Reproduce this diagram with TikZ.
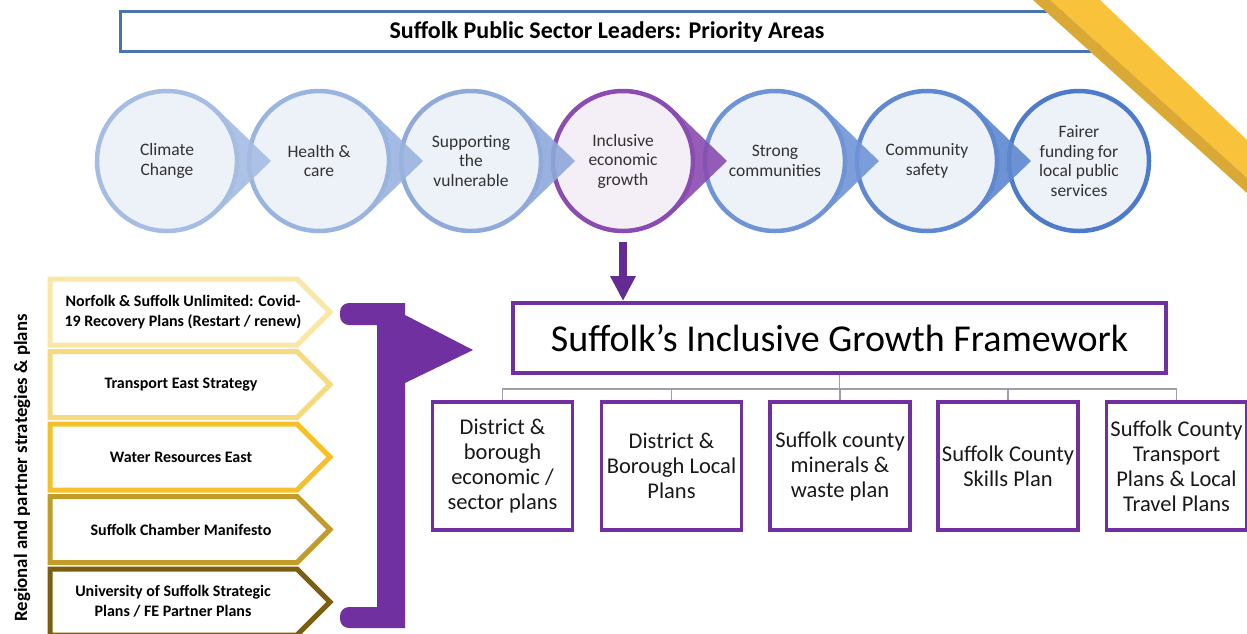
\documentclass[tikz,border=0pt]{standalone}
\usepackage{fontspec}
\setmainfont{Carlito}
\usetikzlibrary{arrows.meta}
\definecolor{titleblue}{RGB}{74,116,170}
\definecolor{stripelight}{RGB}{248,194,59}
\definecolor{stripedark}{RGB}{218,168,52}
\definecolor{cfill}{RGB}{237,241,248}
\definecolor{pfill}{RGB}{244,239,246}
\definecolor{cA}{RGB}{165,188,227}
\definecolor{cB}{RGB}{154,180,224}
\definecolor{cC}{RGB}{143,169,219}
\definecolor{cD}{RGB}{138,76,176}
\definecolor{cE}{RGB}{111,148,214}
\definecolor{cF}{RGB}{95,136,208}
\definecolor{cG}{RGB}{78,123,201}
\definecolor{mainpurple}{RGB}{112,48,160}
\definecolor{arrowpurple}{RGB}{98,44,148}
\definecolor{treegrey}{RGB}{160,156,170}
\definecolor{ctext}{RGB}{50,50,50}
\definecolor{chA}{RGB}{250,231,165}
\definecolor{chB}{RGB}{246,218,128}
\definecolor{chC}{RGB}{245,192,42}
\definecolor{chD}{RGB}{194,155,40}
\definecolor{chE}{RGB}{122,95,16}
\tikzset{
  titlebox/.style={draw=titleblue, line width=3pt, fill=white, minimum width=980pt, minimum height=40pt, inner sep=0pt},
  prio/.style={circle, line width=4.5pt, minimum size=140pt, inner sep=0pt, align=center,
    text=ctext, font=\fontsize{17.5}{19.5}\selectfont},
  fwbox/.style={draw=mainpurple, line width=4pt, fill=white, minimum width=653pt, minimum height=70pt,
    inner sep=0pt, font=\fontsize{38}{42}\selectfont},
  subbox/.style={draw=mainpurple, line width=3.5pt, fill=white, minimum width=140pt, minimum height=128pt,
    inner sep=0pt, align=center, text=black!90, font=\fontsize{22.5}{25}\selectfont},
  treeline/.style={draw=treegrey, line width=1.5pt},
  chev/.style={line width=5pt, fill=white, line join=miter},
  chevtext/.style={align=center, font=\bfseries\fontsize{16}{20.5}\selectfont},
}
\begin{document}
\begin{tikzpicture}[x=1pt,y=-1pt]
\useasboundingbox (0,0) rectangle (1247,633);
\fill[white] (0,0) rectangle (1247,633);

% title
\node[titlebox] (title) at (610,31.5) {};
\node[font=\bfseries\fontsize{24}{28}\selectfont] (titletext) at (607,31.5) {Suffolk Public Sector Leaders: Priority Areas};

% stripe
\fill[stripelight] (1050,0) -- (1100,0) -- (1247,140) -- (1247,178) -- cycle;
\fill[stripedark] (1033,0) -- (1050,0) -- (1247,178) -- (1247,193) -- cycle;

% priority circles
\foreach \i/\x/\col/\fil/\txt in {
  1/167/cA/cfill/{Climate\\Change},
  2/319/cB/cfill/{Health \&\\care},
  3/471/cC/cfill/{Supporting\\the\\vulnerable},
  4/623/cD/pfill/{Inclusive\\economic\\growth},
  5/775/cE/cfill/{Strong\\communities},
  6/927/cF/cfill/{Community\\safety},
  7/1079/cG/cfill/{Fairer\\funding for\\local public\\services}}{
  \node[prio, draw=\col, fill=\fil] (c\i) at (\x,161) {\txt};
}
\foreach \i/\col in {1/cA,2/cB,3/cC,4/cD,5/cE,6/cF}{
  \coordinate (tip\i) at ([xshift=104pt]c\i.center);
  \fill[\col, opacity=0.9] (tip\i) -- (c\i.46) -- (c\i.30) -- (c\i.15) -- (c\i.east) -- (c\i.-15) -- (c\i.-30) -- (c\i.-46) -- cycle;
}

% framework
\node[fwbox] (fw) at (839.5,338) {Suffolk’s Inclusive Growth Framework};
\coordinate (arrowstart) at ([yshift=-9pt]c4.south);
\draw[arrowpurple, line width=8pt, -{Triangle[width=24pt,length=25pt]}] (arrowstart) -- (arrowstart |- fw.north);

% sub boxes
\node[subbox] (b1) at (502.5,466) {District \&\\borough\\economic /\\sector plans};
\node[subbox] (b2) at (671.5,466) {District \&\\Borough Local\\Plans};
\node[subbox] (b3) at (840,466) {Suffolk county\\minerals \&\\waste plan};
\node[subbox] (b4) at (1008,466) {Suffolk County\\Skills Plan};
\node[subbox] (b5) at (1176.5,466) {Suffolk County\\Transport\\Plans \& Local\\Travel Plans};
\coordinate (hub) at (839.5,389);
\draw[treeline] (fw.south) -- (hub);
\foreach \b in {b1,b2,b3,b4,b5}{
  \draw[treeline] (hub) -| (\b.north);
}

% chevrons
\foreach \j/\y/\col in {1/312/chA,2/384.5/chB,3/457/chC,4/529.5/chD,5/602/chE}{
  \draw[chev, draw=\col] (50,\y-33) -- (297,\y-33) -- (330,\y) -- (297,\y+33) -- (50,\y+33) -- cycle;
}
\node[chevtext] (t1) at (183,312) {Norfolk \& Suffolk Unlimited: Covid-\\19 Recovery Plans (Restart / renew)};
\node[chevtext] (t2) at (181,384.5) {Transport East Strategy};
\node[chevtext] (t3) at (181,457) {Water Resources East};
\node[chevtext] (t4) at (181,529.5) {Suffolk Chamber Manifesto};
\node[chevtext] (t5) at (173,601) {University of Suffolk Strategic\\Plans / FE Partner Plans};

\node[rotate=90, font=\bfseries\fontsize{18.8}{22}\selectfont] (side) at (22,468) {Regional and partner strategies \& plans};

% bracket
\fill[mainpurple] (405,303) -- (405,315) -- (473,350) -- (405,383) -- (405,628)
  [rounded corners=9pt] -- (340,628) -- (340,607) [sharp corners] -- (377,607) -- (377,325)
  [rounded corners=9pt] -- (340,325) -- (340,303) [sharp corners] -- cycle;
\end{tikzpicture}
\end{document}
